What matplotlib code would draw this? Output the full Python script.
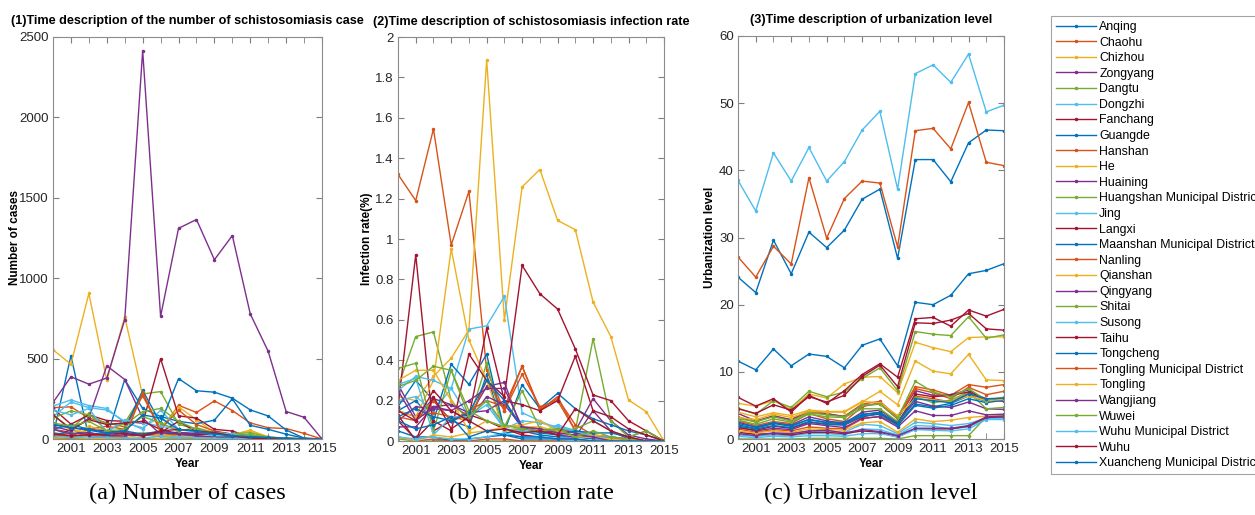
import matplotlib.pyplot as plt
from matplotlib.ticker import MultipleLocator, FormatStrFormatter

# years on the x axis
years = list(range(2000, 2016))

# county / district names (legend order)
names = ["Anqing", "Chaohu", "Chizhou", "Zongyang", "Dangtu", "Dongzhi", "Fanchang",
         "Guangde", "Hanshan", "He", "Huaining", "Huangshan Municipal District", "Jing",
         "Langxi", "Maanshan Municipal District", "Nanling", "Qianshan", "Qingyang",
         "Shitai", "Susong", "Taihu", "Tongcheng", "Tongling Municipal District",
         "Tongling", "Wangjiang", "Wuwei", "Wuhu Municipal District", "Wuhu",
         "Xuancheng Municipal District"]

# number of cases, one row per name
cases = [
    [20, 518, 10, 15, 20, 30, 15, 10, 5, 5, 3, 2, 1, 0, 0, 0],
    [195, 200, 130, 100, 75, 285, 50, 210, 165, 237, 177, 100, 70, 65, 35, 0],
    [555, 465, 905, 365, 760, 270, 70, 200, 120, 40, 25, 55, 10, 5, 0, 0],
    [227, 387, 341, 379, 742, 2415, 763, 1310, 1365, 1115, 1265, 778, 545, 171, 135, 0],
    [150, 65, 160, 50, 100, 280, 295, 92, 60, 40, 30, 20, 10, 5, 2, 0],
    [205, 243, 208, 190, 100, 70, 140, 40, 30, 20, 10, 5, 3, 2, 0, 0],
    [190, 92, 150, 115, 110, 98, 499, 144, 130, 60, 50, 10, 5, 2, 0, 0],
    [10, 60, 20, 10, 370, 190, 140, 110, 95, 117, 250, 85, 60, 30, 5, 0],
    [40, 20, 60, 80, 60, 270, 60, 180, 90, 50, 30, 20, 10, 5, 2, 0],
    [100, 60, 40, 10, 5, 30, 20, 10, 5, 3, 2, 0, 0, 0, 0, 0],
    [80, 50, 130, 455, 370, 130, 30, 40, 30, 35, 25, 10, 5, 2, 0, 0],
    [2, 1, 3, 2, 1, 2, 1, 1, 0, 0, 0, 0, 0, 0, 0, 0],
    [140, 230, 195, 180, 110, 60, 180, 60, 40, 30, 20, 10, 5, 2, 0, 0],
    [60, 40, 30, 20, 30, 20, 40, 110, 45, 40, 20, 10, 5, 2, 0, 0],
    [30, 40, 35, 30, 60, 302, 98, 376, 300, 291, 254, 181, 143, 56, 5, 0],
    [30, 10, 40, 10, 20, 40, 30, 20, 15, 10, 5, 2, 0, 0, 0, 0],
    [60, 30, 80, 50, 20, 40, 30, 15, 10, 5, 30, 50, 15, 5, 0, 0],
    [90, 70, 60, 50, 40, 30, 45, 40, 35, 45, 30, 15, 8, 3, 0, 0],
    [130, 175, 150, 95, 90, 170, 190, 110, 60, 40, 30, 40, 10, 5, 0, 0],
    [180, 150, 190, 40, 120, 100, 80, 60, 50, 40, 30, 20, 10, 5, 0, 0],
    [150, 60, 120, 90, 100, 110, 60, 30, 25, 35, 20, 5, 2, 0, 0, 0],
    [60, 90, 60, 40, 50, 30, 50, 30, 20, 10, 15, 10, 5, 3, 0, 0],
    [10, 5, 20, 15, 10, 290, 40, 20, 10, 10, 5, 2, 0, 0, 0, 0],
    [5, 10, 5, 0, 0, 10, 5, 20, 10, 5, 3, 2, 0, 0, 0, 0],
    [60, 30, 40, 20, 25, 20, 40, 30, 20, 10, 5, 2, 0, 0, 0, 0],
    [100, 80, 110, 50, 60, 140, 100, 50, 70, 40, 20, 30, 5, 2, 0, 0],
    [20, 10, 15, 10, 5, 5, 20, 10, 8, 5, 3, 2, 0, 0, 0, 0],
    [30, 20, 25, 30, 35, 20, 50, 60, 50, 40, 20, 5, 2, 0, 0, 0],
    [90, 70, 55, 35, 50, 150, 130, 60, 50, 30, 20, 15, 10, 5, 0, 0],
]

# infection rate (%)
rates = [
    [0.17, 0.30, 0.20, 0.10, 0.07, 0.33, 0.04, 0.05, 0.03, 0.02, 0.02, 0.01, 0.01, 0.0, 0.0, 0.0],
    [1.32, 1.19, 1.545, 0.97, 1.236, 0.35, 0.15, 0.37, 0.15, 0.22, 0.05, 0.02, 0.01, 0.0, 0.0, 0.0],
    [0.22, 0.2, 0.32, 0.41, 0.55, 1.886, 0.6, 1.258, 1.344, 1.092, 1.046, 0.688, 0.517, 0.203, 0.145, 0.0],
    [0.28, 0.12, 0.21, 0.18, 0.12, 0.27, 0.29, 0.05, 0.04, 0.05, 0.05, 0.21, 0.1, 0.03, 0.01, 0.0],
    [0.27, 0.517, 0.54, 0.2, 0.1, 0.385, 0.05, 0.06, 0.05, 0.04, 0.05, 0.506, 0.1, 0.02, 0.05, 0.0],
    [0.2, 0.22, 0.15, 0.26, 0.554, 0.57, 0.716, 0.14, 0.1, 0.06, 0.05, 0.03, 0.02, 0.01, 0.0, 0.0],
    [0.17, 0.922, 0.05, 0.1, 0.13, 0.1, 0.06, 0.03, 0.02, 0.01, 0.01, 0.0, 0.0, 0.0, 0.0, 0.0],
    [0.15, 0.2, 0.1, 0.38, 0.28, 0.43, 0.05, 0.278, 0.162, 0.236, 0.16, 0.11, 0.08, 0.05, 0.03, 0.0],
    [0.15, 0.12, 0.14, 0.12, 0.1, 0.3, 0.15, 0.33, 0.17, 0.2, 0.05, 0.02, 0.01, 0.0, 0.0, 0.0],
    [0.15, 0.12, 0.3, 0.952, 0.5, 0.3, 0.05, 0.07, 0.06, 0.04, 0.03, 0.02, 0.01, 0.0, 0.0, 0.0],
    [0.1, 0.17, 0.16, 0.15, 0.1, 0.22, 0.18, 0.07, 0.06, 0.03, 0.02, 0.15, 0.05, 0.01, 0.0, 0.0],
    [0.01, 0.0, 0.0, 0.01, 0.0, 0.0, 0.0, 0.0, 0.0, 0.0, 0.0, 0.0, 0.0, 0.0, 0.0, 0.0],
    [0.25, 0.32, 0.3, 0.26, 0.12, 0.18, 0.06, 0.05, 0.04, 0.08, 0.05, 0.02, 0.01, 0.0, 0.0, 0.0],
    [0.1, 0.01, 0.1, 0.05, 0.43, 0.3, 0.22, 0.869, 0.729, 0.653, 0.456, 0.228, 0.2, 0.1, 0.05, 0.0],
    [0.05, 0.02, 0.02, 0.0, 0.01, 0.02, 0.03, 0.01, 0.01, 0.01, 0.0, 0.0, 0.0, 0.0, 0.0, 0.0],
    [0.12, 0.1, 0.2, 0.1, 0.15, 0.2, 0.17, 0.37, 0.16, 0.21, 0.08, 0.03, 0.02, 0.0, 0.0, 0.0],
    [0.3, 0.35, 0.35, 0.2, 0.05, 0.1, 0.07, 0.07, 0.07, 0.05, 0.04, 0.03, 0.02, 0.01, 0.0, 0.0],
    [0.07, 0.07, 0.17, 0.18, 0.14, 0.15, 0.2, 0.06, 0.05, 0.06, 0.04, 0.02, 0.02, 0.01, 0.0, 0.0],
    [0.36, 0.385, 0.05, 0.35, 0.15, 0.1, 0.07, 0.25, 0.06, 0.05, 0.06, 0.1, 0.05, 0.02, 0.05, 0.0],
    [0.28, 0.31, 0.03, 0.12, 0.12, 0.2, 0.06, 0.1, 0.09, 0.07, 0.05, 0.02, 0.02, 0.01, 0.0, 0.0],
    [0.13, 0.0, 0.22, 0.06, 0.12, 0.557, 0.2, 0.18, 0.15, 0.2, 0.42, 0.15, 0.12, 0.06, 0.03, 0.0],
    [0.12, 0.16, 0.12, 0.1, 0.14, 0.3, 0.2, 0.07, 0.04, 0.03, 0.05, 0.04, 0.04, 0.02, 0.0, 0.0],
    [0.02, 0.0, 0.01, 0.0, 0.0, 0.01, 0.01, 0.0, 0.0, 0.0, 0.0, 0.0, 0.0, 0.0, 0.0, 0.0],
    [0.02, 0.0, 0.03, 0.02, 0.04, 0.05, 0.07, 0.08, 0.1, 0.05, 0.02, 0.02, 0.01, 0.0, 0.0, 0.0],
    [0.25, 0.1, 0.17, 0.15, 0.2, 0.26, 0.26, 0.07, 0.06, 0.04, 0.03, 0.02, 0.0, 0.0, 0.0, 0.0],
    [0.27, 0.3, 0.37, 0.35, 0.12, 0.2, 0.08, 0.06, 0.05, 0.06, 0.02, 0.05, 0.02, 0.01, 0.0, 0.0],
    [0.02, 0.01, 0.02, 0.01, 0.01, 0.02, 0.04, 0.02, 0.02, 0.01, 0.0, 0.0, 0.0, 0.0, 0.0, 0.0],
    [0.15, 0.1, 0.25, 0.15, 0.1, 0.05, 0.06, 0.04, 0.05, 0.03, 0.16, 0.1, 0.05, 0.02, 0.0, 0.0],
    [0.1, 0.06, 0.08, 0.12, 0.02, 0.05, 0.03, 0.02, 0.02, 0.01, 0.01, 0.0, 0.0, 0.0, 0.0, 0.0],
]

# urbanization level
urban = [
    [11.6, 10.3, 13.4, 10.9, 12.65, 12.3, 10.6, 13.95, 14.9, 10.9, 20.35, 20.0, 21.4, 24.6, 25.1, 26.1],
    [3.3, 2.5, 3.5, 2.8, 4.0, 3.7, 3.4, 5.2, 5.6, 3.3, 7.8, 7.3, 6.5, 8.1, 7.7, 8.1],
    [5.3, 4.9, 5.7, 4.4, 6.7, 6.1, 8.2, 9.2, 9.3, 6.9, 14.4, 13.6, 13.0, 15.1, 15.2, 15.2],
    [3.8, 2.7, 3.4, 2.9, 4.2, 3.8, 3.3, 5.0, 5.2, 3.0, 7.2, 6.5, 6.6, 7.3, 5.8, 5.6],
    [4.6, 3.7, 5.7, 4.7, 7.1, 6.3, 7.0, 9.0, 10.6, 7.2, 16.0, 15.6, 15.4, 18.2, 15.0, 15.5],
    [0.6, 0.4, 0.6, 0.5, 0.8, 0.8, 0.6, 1.5, 1.4, 0.6, 2.0, 1.9, 1.5, 1.8, 3.0, 3.0],
    [4.5, 3.8, 5.1, 4.3, 6.3, 5.5, 6.5, 9.3, 11.0, 7.8, 17.3, 17.2, 17.7, 18.7, 16.4, 16.2],
    [2.1, 1.6, 2.3, 1.9, 2.9, 2.4, 2.3, 3.6, 4.0, 2.2, 5.2, 4.8, 5.3, 6.4, 5.6, 6.0],
    [2.7, 2.0, 2.6, 2.3, 3.8, 3.0, 2.6, 4.8, 5.4, 3.0, 7.5, 6.9, 6.0, 7.7, 6.6, 7.1],
    [3.2, 2.9, 3.7, 3.2, 4.1, 4.0, 4.0, 5.5, 7.1, 5.1, 11.6, 10.1, 9.7, 12.6, 8.8, 8.7],
    [2.5, 1.8, 2.4, 2.1, 3.3, 2.7, 2.3, 4.0, 4.3, 2.5, 5.6, 4.9, 4.7, 5.5, 4.5, 4.4],
    [0.0, 0.0, 0.0, 0.0, 0.1, 0.1, 0.1, 0.1, 0.1, 0.0, 0.5, 0.5, 0.5, 0.5, 3.3, 3.5],
    [1.0, 0.7, 0.9, 0.8, 1.2, 1.2, 1.0, 2.2, 2.0, 0.8, 2.5, 2.3, 2.0, 2.3, 3.1, 3.2],
    [1.0, 0.7, 0.8, 0.6, 1.0, 1.0, 0.8, 1.2, 1.0, 0.3, 1.5, 1.5, 1.5, 1.9, 3.2, 3.3],
    [24.1, 21.8, 29.6, 24.6, 30.8, 28.5, 31.1, 35.7, 37.2, 26.9, 41.6, 41.6, 38.3, 44.1, 46.0, 45.9],
    [1.5, 1.0, 1.4, 1.2, 1.8, 1.6, 1.5, 3.0, 3.4, 2.1, 6.4, 6.0, 5.5, 6.8, 5.8, 6.0],
    [1.2, 0.9, 1.2, 1.0, 1.5, 1.4, 1.3, 2.4, 2.6, 1.0, 3.0, 2.6, 2.8, 3.2, 3.4, 3.4],
    [1.8, 1.2, 1.6, 1.4, 2.3, 2.0, 1.7, 3.1, 3.3, 1.8, 4.2, 3.5, 3.5, 4.2, 3.6, 3.7],
    [2.8, 2.2, 3.0, 2.5, 3.7, 3.3, 3.2, 4.5, 4.5, 2.6, 6.3, 5.4, 5.8, 7.0, 4.5, 4.7],
    [0.4, 0.2, 0.4, 0.3, 0.5, 0.5, 0.4, 0.8, 0.8, 0.3, 1.4, 1.3, 1.2, 1.5, 2.9, 2.9],
    [1.7, 1.3, 1.9, 1.6, 2.5, 2.2, 2.1, 3.3, 3.8, 2.3, 6.7, 6.3, 6.5, 7.0, 6.0, 5.8],
    [1.9, 1.5, 2.0, 1.7, 2.6, 2.2, 2.1, 3.4, 3.7, 2.0, 5.0, 4.6, 5.0, 6.0, 5.4, 5.8],
    [27.1, 24.1, 28.7, 26.05, 38.9, 29.9, 35.8, 38.4, 38.1, 28.6, 45.9, 46.25, 43.2, 50.1, 41.2, 40.7],
    [4.0, 3.3, 3.9, 3.5, 4.3, 4.1, 4.1, 5.6, 5.4, 3.5, 6.0, 5.8, 5.5, 6.4, 5.7, 5.9],
    [0.8, 0.5, 0.9, 0.8, 1.2, 1.3, 0.9, 1.4, 1.1, 0.5, 1.6, 1.6, 1.6, 2.0, 3.3, 3.4],
    [3.0, 2.6, 3.3, 2.7, 3.9, 3.6, 3.3, 5.0, 5.2, 3.1, 8.6, 7.0, 6.3, 7.5, 5.8, 6.2],
    [38.5, 33.95, 42.6, 38.4, 43.4, 38.4, 41.3, 46.0, 48.8, 37.2, 54.4, 55.7, 53.1, 57.3, 48.7, 49.7],
    [6.2, 4.9, 6.0, 4.0, 6.5, 5.3, 7.2, 9.6, 11.2, 9.2, 17.9, 18.1, 16.8, 19.2, 18.3, 19.3],
    [2.3, 1.8, 2.4, 2.0, 2.9, 2.5, 2.5, 3.7, 3.9, 2.4, 6.0, 5.7, 5.4, 6.7, 6.0, 6.1],
]

# matlab default line colours
matlab_colors = ['#0072BD', '#D95319', '#EDB120', '#7E2F8E', '#77AC30', '#4DBEEE', '#A2142F']

plt.rcParams['font.family'] = ['Liberation Sans', 'DejaVu Sans']

fig = plt.figure(figsize=(12.55, 5.15), dpi=100)
W, H = 1255.0, 515.0


# pixel box -> figure axes
def add_ax(x0, y0, x1, y1):
    return fig.add_axes([x0 / W, 1 - y1 / H, (x1 - x0) / W, (y1 - y0) / H])


panels = [
    (add_ax(53, 37, 322, 439), cases, 2500, 500, '%d',
     '(1)Time description of the number of schistosomiasis case', 'Number of cases',
     '(a) Number of cases', -1),
    (add_ax(398, 37, 664, 441), rates, 2, 0.2, '%g',
     '(2)Time description of schistosomiasis infection rate', 'Infection rate(%)',
     '(b) Infection rate', 2),
    (add_ax(738, 36, 1004, 439), urban, 60, 10, '%d',
     '(3)Time description of urbanization level', 'Urbanization level',
     '(c) Urbanization level', 2),
]

handles = []
for k, (ax, data, ymax, ystep, fmt, title, ylab, caption, ypad) in enumerate(panels):
    for i, row in enumerate(data):
        ln, = ax.plot(years, row, color=matlab_colors[i % 7], lw=1.0,
                      marker='.', markersize=3, label=names[i])
        if k == 0:
            handles.append(ln)
    ax.set_xlim(2000, 2015)
    ax.set_ylim(0, ymax)
    ax.set_xticks(range(2001, 2016, 2))
    ax.xaxis.set_minor_locator(MultipleLocator(1))
    ax.yaxis.set_major_locator(MultipleLocator(ystep))
    ax.yaxis.set_major_formatter(FormatStrFormatter(fmt))
    ax.tick_params(which='both', direction='in', top=True, right=True,
                   colors='#7f7f7f', labelcolor='#262626', labelsize=9.5, pad=3)
    ax.tick_params(which='both', length=4)
    for s in ax.spines.values():
        s.set_color('#8c8c8c')
        s.set_linewidth(0.8)
    ax.set_title(title, fontsize=9.1, fontweight='bold', pad=9)
    ax.set_ylabel(ylab, fontsize=8.5, fontweight='bold', labelpad=ypad)
    ax.set_xlabel('Year', fontsize=8.5, fontweight='bold', labelpad=2)
    pos = ax.get_position()
    fig.text(pos.x0 + pos.width / 2, 1 - 493 / H, caption, ha='center', va='center',
             fontsize=17.5, family='Liberation Serif')

# legend box on the right, runs off the edge of the figure (as in the source figure)
leg = fig.legend(handles=handles, loc='upper left', bbox_to_anchor=(1051 / W, 1 - 16 / H),
                 fontsize=8.9, frameon=True, fancybox=False, borderaxespad=0,
                 handlelength=3.2, handletextpad=0.3, labelspacing=0.29,
                 borderpad=0.4, numpoints=1)
leg.get_frame().set_edgecolor('#8c8c8c')
leg.get_frame().set_linewidth(0.8)

fig.savefig('out.png', dpi=100)
